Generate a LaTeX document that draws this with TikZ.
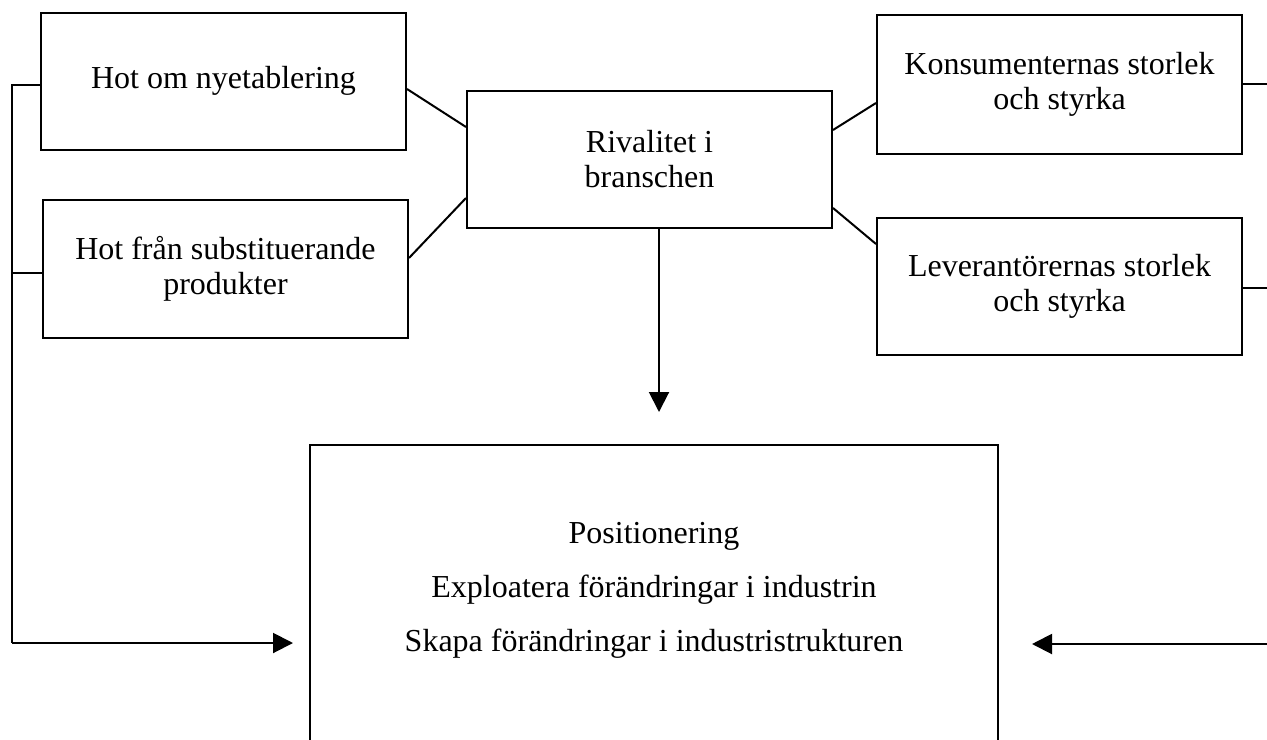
\documentclass[tikz,border=0pt]{standalone}
\usepackage{fontspec}
\setmainfont{Liberation Serif}
\usetikzlibrary{arrows.meta,calc}
\begin{document}
\begin{tikzpicture}[x=0.5pt,y=-0.5pt,
  line width=1pt,
  every node/.style={font=\fontsize{16}{17.5}\selectfont},
  box/.style={draw,line width=1pt,minimum width=182.5pt,minimum height=68.5pt,align=center,inner sep=0pt},
  conn/.style={draw,line width=1pt},
  arr/.style={conn,-{Triangle[length=10pt,width=10pt]}}]
\useasboundingbox (0,0) rectangle (1267,739);
\clip (0,0) rectangle (1267,739);
\fill[white] (0,0) rectangle (1267,739);
\node[box] (A) at (223.5,81) {Hot om nyetablering};
\node[box,minimum height=69pt] (B) at (225.5,269) {Hot från substituerande\\produkter};
\node[box] (C) at (649.5,159.5) {Rivalitet i\\branschen};
\node[box,minimum height=69.5pt] (D) at (1059.5,84.5) {Konsumenternas storlek\\och styrka};
\node[box] (E) at (1059.5,286.5) {Leverantörernas storlek\\och styrka};
\node[draw,line width=1pt,minimum width=344pt,minimum height=160pt,inner sep=0pt] (F) at (654,605) {};
\node[align=center] (Ft) at (654,590) {Positionering\\[9.5pt]Exploatera förändringar i industrin\\[9.5pt]Skapa förändringar i industristrukturen};
% diagonals
\draw[conn] ($(A.east)+(0,8)$) -- ($(C.west)+(0,-32.5)$);
\draw[conn] ($(B.east)+(0,-11)$) -- ($(C.west)+(0,38.5)$);
\draw[conn] ($(C.east)+(0,-29.5)$) -- ($(D.west)+(0,18.5)$);
\draw[conn] ($(C.east)+(0,48.5)$) -- ($(E.west)+(0,-42.5)$);
% left feedback
\coordinate (L1) at (12,85);
\coordinate (L2) at (12,273);
\coordinate (L3) at (12,643);
\coordinate (Lt) at (293,643);
\draw[conn] ($(A.west)+(0,4)$) -- (L1) -- (L3);
\draw[conn] ($(B.west)+(0,4)$) -- (L2);
\draw[arr] (L3) -- (Lt);
% right feedback
\coordinate (R1) at (1280,84);
\coordinate (R2) at (1280,288);
\coordinate (R3) at (1280,644);
\coordinate (Rt) at (1032,644);
\draw[conn] ($(D.east)+(0,-0.5)$) -- (R1) -- (R3);
\draw[conn] ($(E.east)+(0,1.5)$) -- (R2);
\draw[arr] (R3) -- (Rt);
% down arrow
\coordinate (Dn0) at (659,228);
\coordinate (Dn1) at (659,412);
\draw[arr] (Dn0) -- (Dn1);
\end{tikzpicture}
\end{document}
